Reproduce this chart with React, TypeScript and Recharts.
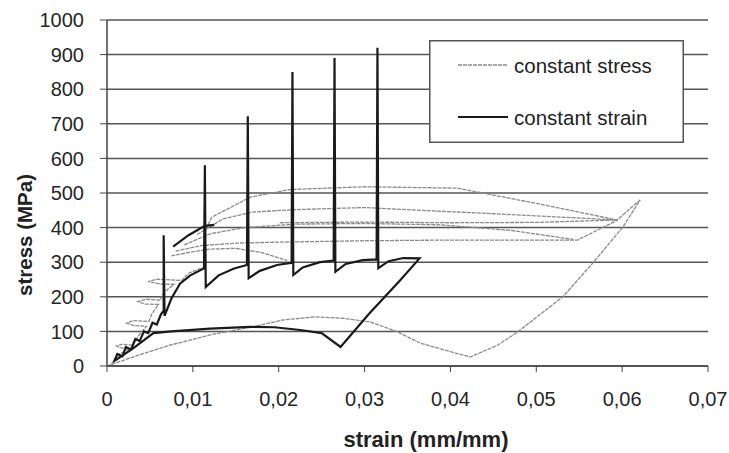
import { LineChart, Line, XAxis, YAxis, CartesianGrid, Legend, Label } from "recharts";

type Pt = [number, number];

const xTicks = [0, 0.01, 0.02, 0.03, 0.04, 0.05, 0.06, 0.07];
const yTicks = [0, 100, 200, 300, 400, 500, 600, 700, 800, 900, 1000];
const seriesNames = ["constant stress", "constant strain"];

// constant strain: loading with relaxation spikes, unloading, and the low return branch
const strainMain: Pt[] = [
  [0.0008, 12], [0.0012, 35], [0.0018, 28], [0.0022, 55], [0.0028, 48], [0.0033, 78],
  [0.0038, 72], [0.0043, 100], [0.0048, 95], [0.0053, 125], [0.0058, 120], [0.0063, 150],
  [0.0066, 160], [0.0066, 378], [0.0067, 145], [0.0075, 195], [0.0085, 238], [0.0097, 262],
  [0.0113, 282], [0.0114, 580], [0.0115, 228], [0.013, 262], [0.0148, 282], [0.0163, 292],
  [0.0164, 722], [0.0165, 254], [0.0178, 275], [0.0198, 292], [0.0215, 298], [0.0216, 850],
  [0.0217, 263], [0.0228, 285], [0.0248, 300], [0.0264, 305], [0.0265, 890], [0.0266, 272],
  [0.0278, 295], [0.0298, 306], [0.0314, 308], [0.0315, 920], [0.0316, 283], [0.0328, 303],
  [0.0345, 312], [0.0364, 311], [0.0342, 249], [0.0305, 150], [0.0272, 55], [0.025, 95],
  [0.0225, 104], [0.0195, 112], [0.0167, 113], [0.012, 108], [0.0075, 100], [0.0054, 95],
  [0.003, 50], [0.0007, 12],
];
const strainUpper: Pt[] = [[0.0077, 345], [0.0095, 378], [0.0114, 405], [0.0125, 408]];

// constant stress: small early loops, creep arcs and the lower recovery curve
const stressLow: Pt[] = [
  [0, 0], [0.0035, 30], [0.0073, 60], [0.012, 90], [0.0167, 112], [0.0205, 133],
  [0.0242, 142], [0.0275, 138], [0.0307, 127], [0.0337, 100], [0.0365, 66], [0.0395, 45],
  [0.0423, 26], [0.0455, 60], [0.0478, 98], [0.0505, 150], [0.0531, 200], [0.0566, 298],
  [0.0601, 402], [0.0621, 480],
];
const stressEarly: Pt[] = [
  [0.0005, 5], [0.0015, 35], [0.0026, 50], [0.0015, 53], [0.0011, 58], [0.0018, 63],
  [0.003, 60], [0.0036, 85], [0.0046, 115], [0.0031, 117], [0.0023, 124], [0.003, 131],
  [0.0049, 129], [0.0052, 150], [0.006, 178], [0.0044, 179], [0.0036, 186], [0.0045, 193],
  [0.0062, 190], [0.0066, 212], [0.0078, 236], [0.0062, 237], [0.0048, 244], [0.0058, 251],
  [0.0087, 247], [0.0095, 268], [0.0115, 288],
];
const stressArcA: Pt[] = [
  [0.0075, 318], [0.0095, 328], [0.012, 338], [0.015, 340], [0.018, 328], [0.021, 305],
];
const stressArcB: Pt[] = [
  [0.008, 332], [0.011, 348], [0.015, 355], [0.02, 358], [0.03, 362], [0.04, 364],
  [0.0548, 364], [0.0595, 422],
];
const stressArcC: Pt[] = [
  [0.009, 350], [0.012, 382], [0.016, 400], [0.022, 410], [0.03, 412], [0.0388, 408],
  [0.047, 392], [0.0543, 366],
];
const stressArcD: Pt[] = [
  [0.0105, 380], [0.0135, 425], [0.017, 445], [0.022, 452], [0.03, 458], [0.0357, 451],
  [0.045, 440], [0.0595, 422], [0.05, 415], [0.04, 414], [0.03, 416], [0.02, 414],
];
const stressArcE: Pt[] = [
  [0.0115, 395], [0.0122, 430], [0.0167, 488], [0.0213, 510], [0.03, 518], [0.0408, 514],
  [0.05, 470], [0.0594, 422], [0.0621, 480],
];

const strainPaths = [strainMain, strainUpper];
const stressPaths = [stressLow, stressEarly, stressArcA, stressArcB, stressArcC, stressArcD, stressArcE];

const toRows = (pts: Pt[]) => pts.map(([x, y]) => ({ x, y }));
const fmtX = (v: number) => (v === 0 ? "0" : v.toFixed(2).replace(".", ","));

const FONT = "'Liberation Sans', Arial, sans-serif";
const tickStyle = { fontSize: 20, fill: "#262626", fontFamily: FONT };

function LegendBox() {
  return (
    <svg width={255} height={103} style={{ display: "block" }}>
      <rect x={0.75} y={0.75} width={253.5} height={101.5} fill="#fff" stroke="#555" strokeWidth={1.5} />
      <line x1={29} y1={25} x2={79} y2={25} stroke="#8a8a8a" strokeWidth={1.3} strokeDasharray="4 1" />
      <text x={85} y={25} dominantBaseline="central" fontSize={20.5} fontFamily={FONT} fill="#222">
        {seriesNames[0]}
      </text>
      <line x1={29} y1={77} x2={79} y2={77} stroke="#1a1a1a" strokeWidth={2.2} />
      <text x={85} y={77} dominantBaseline="central" fontSize={20.5} fontFamily={FONT} fill="#222">
        {seriesNames[1]}
      </text>
    </svg>
  );
}

export default function App() {
  return (
    <div style={{ position: "absolute", left: 0, top: 0, width: 729, height: 453, background: "#fff" }}>
      <LineChart width={729} height={453} margin={{ top: 20, right: 21, bottom: 27, left: 0 }}>
        <CartesianGrid vertical={false} stroke="#555" strokeWidth={1.5} />
        <XAxis
          type="number"
          dataKey="x"
          domain={[0, 0.07]}
          ticks={xTicks}
          tickFormatter={fmtX}
          allowDataOverflow
          height={60}
          tickSize={6}
          tickMargin={20}
          tick={tickStyle}
          axisLine={{ stroke: "#444", strokeWidth: 1.5 }}
          tickLine={{ stroke: "#444" }}
        >
          <Label
            content={() => (
              <text x={426} y={439} textAnchor="middle" dominantBaseline="central" fontSize={22}
                fontWeight="bold" fontFamily={FONT} fill="#222">
                strain (mm/mm)
              </text>
            )}
          />
        </XAxis>
        <YAxis
          type="number"
          domain={[0, 1000]}
          ticks={yTicks}
          interval={0}
          width={107}
          tickSize={7}
          tickMargin={16}
          tick={tickStyle}
          axisLine={{ stroke: "#444", strokeWidth: 1.5 }}
          tickLine={{ stroke: "#444" }}
        >
          <Label
            content={() => (
              <text x={24} y={235} transform="rotate(-90 24 235)" textAnchor="middle"
                dominantBaseline="central" fontSize={20.5} fontWeight="bold" fontFamily={FONT} fill="#222">
                stress (MPa)
              </text>
            )}
          />
        </YAxis>
        <Legend
          layout="vertical"
          align="center"
          verticalAlign="middle"
          content={() => <LegendBox />}
          wrapperStyle={{ position: "absolute", left: 429, top: 40, width: 255, height: 103 }}
        />
        {stressPaths.map((p, i) => (
          <Line
            key={"stress" + i}
            data={toRows(p)}
            dataKey="y"
            name={seriesNames[0]}
            type="linear"
            stroke="#8a8a8a"
            strokeWidth={1.3}
            strokeDasharray="4 1"
            dot={false}
            activeDot={false}
            isAnimationActive={false}
          />
        ))}
        {strainPaths.map((p, i) => (
          <Line
            key={"strain" + i}
            data={toRows(p)}
            dataKey="y"
            name={seriesNames[1]}
            type="linear"
            stroke="#1a1a1a"
            strokeWidth={2.2}
            dot={false}
            activeDot={false}
            isAnimationActive={false}
          />
        ))}
      </LineChart>
    </div>
  );
}
